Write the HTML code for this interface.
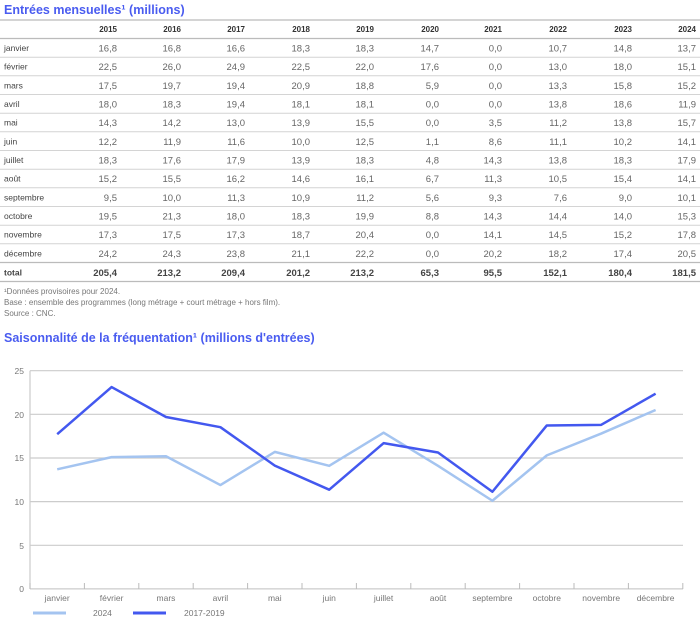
<!DOCTYPE html><html><head><meta charset="utf-8"><style>
body{margin:0;background:#fff;width:700px;height:621px;overflow:hidden}
svg{display:block;font-family:"Liberation Sans",sans-serif}
.t{font-size:8.5px;fill:#444}
.n{font-size:9.5px;fill:#666;text-anchor:end}
.h{font-size:8px;fill:#333;font-weight:bold;text-anchor:end}
.b{font-size:9.5px;fill:#444;font-weight:bold;text-anchor:end}
.ttl{font-size:12.5px;font-weight:bold;fill:#4a5cf0}
.f{font-size:8px;fill:#777}
.ax{font-size:8.5px;fill:#777}
</style></head><body>
<svg width="700" height="621" viewBox="0 0 700 621">
<text x="4" y="14" class="ttl">Entrées mensuelles¹ (millions)</text>
<g stroke="#bbb" stroke-width="1.3">
<line x1="0" y1="20" x2="700" y2="20"/><line x1="0" y1="38.5" x2="700" y2="38.5"/>
<line x1="0" y1="262.5" x2="700" y2="262.5"/><line x1="0" y1="281.5" x2="700" y2="281.5"/>
</g>
<g stroke="#d4d4d4" stroke-width="1">
<line x1="0" y1="57.2" x2="700" y2="57.2"/><line x1="0" y1="75.8" x2="700" y2="75.8"/><line x1="0" y1="94.5" x2="700" y2="94.5"/><line x1="0" y1="113.2" x2="700" y2="113.2"/><line x1="0" y1="131.8" x2="700" y2="131.8"/><line x1="0" y1="150.5" x2="700" y2="150.5"/><line x1="0" y1="169.2" x2="700" y2="169.2"/><line x1="0" y1="187.8" x2="700" y2="187.8"/><line x1="0" y1="206.5" x2="700" y2="206.5"/><line x1="0" y1="225.2" x2="700" y2="225.2"/><line x1="0" y1="243.8" x2="700" y2="243.8"/>
</g>
<g class="h"><text x="117" y="32">2015</text><text x="181" y="32">2016</text><text x="245" y="32">2017</text><text x="310" y="32">2018</text><text x="374" y="32">2019</text><text x="439" y="32">2020</text><text x="502" y="32">2021</text><text x="567" y="32">2022</text><text x="632" y="32">2023</text><text x="696" y="32">2024</text></g>
<g id="rows"></g>
<text x="4" y="275.5" style="font-size:8.5px;font-weight:bold;fill:#444">total</text>
<g class="b"><text x="117" y="276">205,4</text><text x="181" y="276">213,2</text><text x="245" y="276">209,4</text><text x="310" y="276">201,2</text><text x="374" y="276">213,2</text><text x="439" y="276">65,3</text><text x="502" y="276">95,5</text><text x="567" y="276">152,1</text><text x="632" y="276">180,4</text><text x="696" y="276">181,5</text></g>
<text x="4" y="294" class="f">¹Données provisoires pour 2024.</text>
<text x="4" y="305" class="f">Base : ensemble des programmes (long métrage + court métrage + hors film).</text>
<text x="4" y="316" class="f">Source : CNC.</text>
<text x="4" y="342" class="ttl">Saisonnalité de la fréquentation¹ (millions d'entrées)</text>
<g stroke="#ccc" stroke-width="1.2">
<line x1="30" y1="370.7" x2="683" y2="370.7"/><line x1="30" y1="414.3" x2="683" y2="414.3"/><line x1="30" y1="458" x2="683" y2="458"/><line x1="30" y1="501.6" x2="683" y2="501.6"/><line x1="30" y1="545.3" x2="683" y2="545.3"/><line x1="30" y1="588.9" x2="683" y2="588.9"/>
<line x1="30" y1="370.7" x2="30" y2="589"/>
</g>
<g class="ax" text-anchor="end"><text x="24" y="374">25</text><text x="24" y="418">20</text><text x="24" y="461">15</text><text x="24" y="505">10</text><text x="24" y="549">5</text><text x="24" y="592">0</text></g>
<g id="xt" stroke="#bbb"></g>
<g id="xl" class="ax" text-anchor="middle"></g>
<polyline id="p2" fill="none" stroke="#a4c4f0" stroke-width="2.5" stroke-linejoin="round"/>
<polyline id="p1" fill="none" stroke="#4358ef" stroke-width="2.5" stroke-linejoin="round"/>
<line x1="33" y1="613" x2="66" y2="613" stroke="#a4c4f0" stroke-width="3"/>
<text x="93" y="616" class="ax">2024</text>
<line x1="133" y1="613" x2="166" y2="613" stroke="#4358ef" stroke-width="3"/>
<text x="184" y="616" class="ax">2017-2019</text>
</svg>
<script>
var NS="http://www.w3.org/2000/svg";
function T(p,x,y,c,s){var t=document.createElementNS(NS,"text");t.setAttribute("x",x);t.setAttribute("y",y);if(c)t.setAttribute("class",c);t.textContent=s;p.appendChild(t);}
var months=["janvier","février","mars","avril","mai","juin","juillet","août","septembre","octobre","novembre","décembre"];
var d=[["16,8","16,8","16,6","18,3","18,3","14,7","0,0","10,7","14,8","13,7"],["22,5","26,0","24,9","22,5","22,0","17,6","0,0","13,0","18,0","15,1"],["17,5","19,7","19,4","20,9","18,8","5,9","0,0","13,3","15,8","15,2"],["18,0","18,3","19,4","18,1","18,1","0,0","0,0","13,8","18,6","11,9"],["14,3","14,2","13,0","13,9","15,5","0,0","3,5","11,2","13,8","15,7"],["12,2","11,9","11,6","10,0","12,5","1,1","8,6","11,1","10,2","14,1"],["18,3","17,6","17,9","13,9","18,3","4,8","14,3","13,8","18,3","17,9"],["15,2","15,5","16,2","14,6","16,1","6,7","11,3","10,5","15,4","14,1"],["9,5","10,0","11,3","10,9","11,2","5,6","9,3","7,6","9,0","10,1"],["19,5","21,3","18,0","18,3","19,9","8,8","14,3","14,4","14,0","15,3"],["17,3","17,5","17,3","18,7","20,4","0,0","14,1","14,5","15,2","17,8"],["24,2","24,3","23,8","21,1","22,2","0,0","20,2","18,2","17,4","20,5"]];
var cx=[117,181,245,310,374,439,502,567,632,696];
var r=document.getElementById("rows");
for(var i=0;i<12;i++){var y=51.5+i*18.66;T(r,4,y-0.5,"t",months[i]);for(var j=0;j<10;j++)T(r,cx[j],y,"n",d[i][j]);}
var a=[17.73,23.13,19.7,18.53,14.13,11.37,16.7,15.63,11.13,18.73,18.8,22.37],b=[13.7,15.1,15.2,11.9,15.7,14.1,17.9,14.1,10.1,15.3,17.8,20.5];
function X(i){return 57.2+i*54.4}function Y(v){return 588.9-v*8.727}
document.getElementById("p1").setAttribute("points",a.map(function(v,i){return X(i)+","+Y(v)}).join(" "));
document.getElementById("p2").setAttribute("points",b.map(function(v,i){return X(i)+","+Y(v)}).join(" "));
var xt=document.getElementById("xt"),xl=document.getElementById("xl");
for(var i=0;i<=12;i++){var l=document.createElementNS(NS,"line");var x=30+i*54.4;l.setAttribute("x1",x);l.setAttribute("x2",x);l.setAttribute("y1",583);l.setAttribute("y2",589);xt.appendChild(l);}
for(var i=0;i<12;i++)T(xl,X(i),601,null,months[i]);
</script>
</body></html>
